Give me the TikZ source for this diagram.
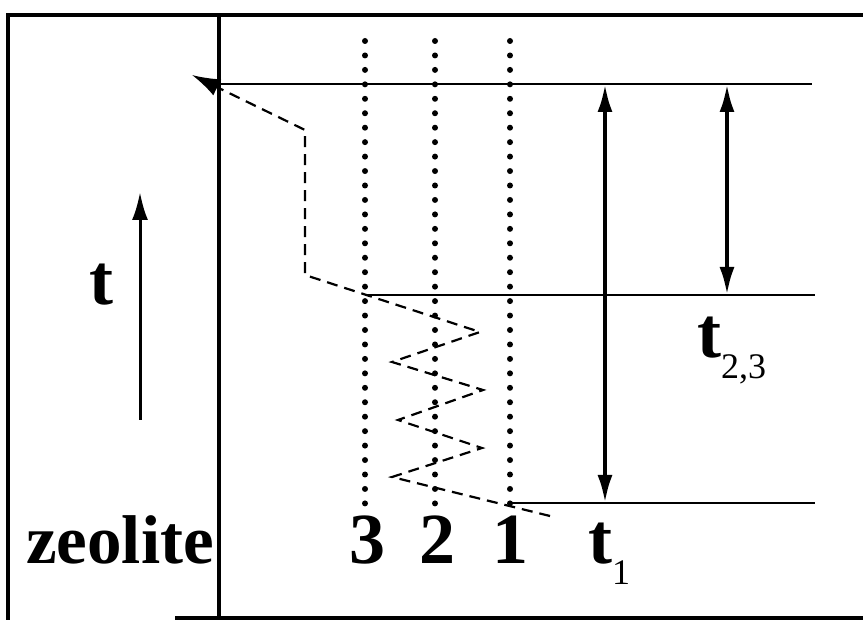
\documentclass[tikz,border=0pt]{standalone}
\usepackage{fontspec}
\setmainfont{Liberation Serif}
\usetikzlibrary{arrows.meta}
\newcommand{\sub}[1]{\raisebox{-21pt}{\fontsize{36}{36}\selectfont\mdseries #1}}

\begin{document}
\begin{tikzpicture}[x=1pt,y=-1pt,
  frame/.style={line width=3.2pt},
  level/.style={line width=1.8pt},
  span/.style={line width=4pt,{Latex[length=28pt,width=15pt]}-{Latex[length=28pt,width=15pt]}},
  site/.style={line width=6pt,line cap=round,dash pattern=on 0pt off 14.45pt},
  hop/.style={line width=2.2pt,dash pattern=on 11pt off 7pt,-{Latex[length=28pt,width=18pt]}},
  lbl/.style={inner sep=0pt,anchor=base,font=\fontsize{72}{72}\selectfont\bfseries}]
\useasboundingbox (0,0) rectangle (863,620);
% frame and zeolite wall
\draw[frame] (8,620) -- (8,15) -- (863,15); \draw[frame] (219,15) -- (219,620); \draw[frame] (175,618) -- (863,618);
% labels
\node[lbl,font=\fontsize{69}{69}\selectfont\bfseries] (zeo) at (120,563) {zeolite}; \node[lbl] (tlab) at (101,305) {t};
\node[lbl] (n3) at (367,563) {3}; \node[lbl] (n2) at (437,563) {2}; \node[lbl] (n1) at (510,563) {1};
\node[lbl,anchor=base west] (t1) at (588,563) {t\sub{1}}; \node[lbl,anchor=base west] (t23) at (697,358) {t\sub{2,3}};
% sites
\coordinate (s3t) at (365,41); \coordinate (s3b) at (365,506); \coordinate (s2t) at (435,41); \coordinate (s2b) at (435,506);
\coordinate (s1t) at (510,41); \coordinate (s1b) at (510,506);
\draw[site] (s3t) -- (s3b); \draw[site] (s2t) -- (s2b); \draw[site] (s1t) -- (s1b);
% time levels
\coordinate (l0) at (219,84); \coordinate (l0e) at (812,84); \coordinate (l23) at (365,295); \coordinate (l23e) at (815,295);
\coordinate (l1) at (510,503); \coordinate (l1e) at (815,503);
\draw[level] (l0) -- (l0e); \draw[level] (l23) -- (l23e); \draw[level] (l1) -- (l1e);
\draw[span] (605,84) coordinate (a1t) -- (605,503) coordinate (a1b); \draw[span] (727,84) coordinate (a2t) -- (727,295) coordinate (a2b);
% time axis
\coordinate (ta) at (140,420); \coordinate (tb) at (140,192);
\draw[line width=3pt,-{Latex[length=28pt,width=16pt]}] (ta) -- (tb);
% molecule path
\coordinate (p0) at (550,516); \coordinate (p1) at (392,477); \coordinate (p2) at (482,448); \coordinate (p3) at (398,420);
\coordinate (p4) at (483,390); \coordinate (p5) at (392,362); \coordinate (p6) at (480,332); \coordinate (p7) at (305,275);
\coordinate (p8) at (305,130); \coordinate (p9) at (192,75);
\draw[hop] (p0) -- (p1) -- (p2) -- (p3) -- (p4) -- (p5) -- (p6) -- (p7) -- (p8) -- (p9);
\end{tikzpicture}
\end{document}
